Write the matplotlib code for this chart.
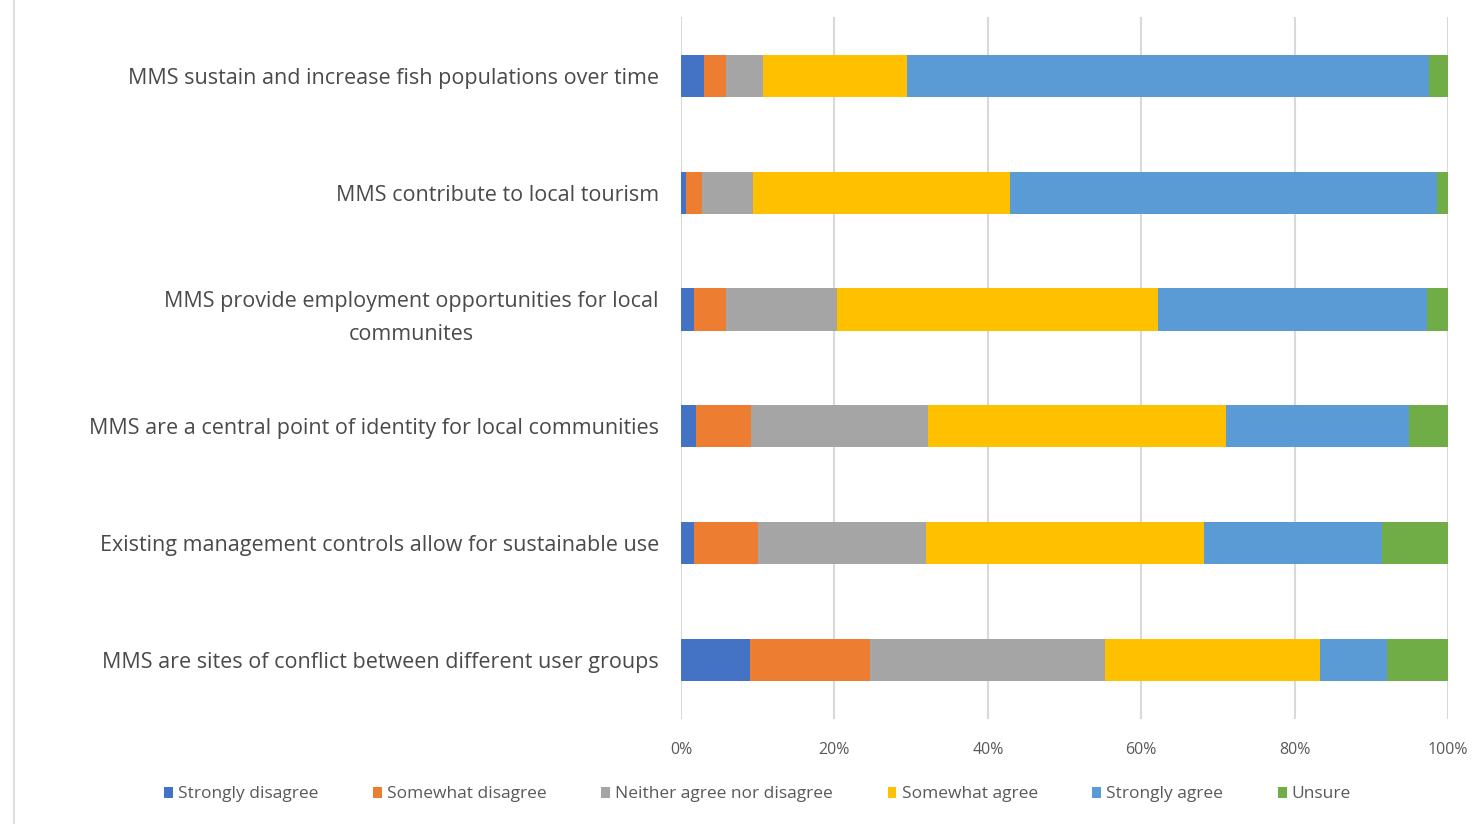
import numpy as np
import matplotlib.pyplot as plt
from matplotlib.patches import Patch
from matplotlib.lines import Line2D

plt.rcParams['font.family'] = ['Open Sans', 'DejaVu Sans']

statements = [
    "MMS sustain and increase fish populations over time",
    "MMS contribute to local tourism",
    "MMS provide employment opportunities for local\ncommunites",
    "MMS are a central point of identity for local communities",
    "Existing management controls allow for sustainable use",
    "MMS are sites of conflict between different user groups",
]
responses = ["Strongly disagree", "Somewhat disagree", "Neither agree nor disagree",
             "Somewhat agree", "Strongly agree", "Unsure"]
colors = ["#4472c4", "#ed7d31", "#a5a5a5", "#ffc000", "#5b9bd5", "#70ad47"]

# percent of respondents, one list per response, in statement order
strongly_disagree = [3.0, 0.7, 1.7, 2.0, 1.7, 9.0]
somewhat_disagree = [2.9, 2.0, 4.2, 7.1, 8.3, 15.7]
neither = [4.8, 6.7, 14.4, 23.1, 21.9, 30.6]
somewhat_agree = [18.7, 33.5, 41.9, 38.9, 36.3, 28.0]
strongly_agree = [68.1, 55.6, 35.0, 23.8, 23.2, 8.7]
unsure = [2.5, 1.5, 2.8, 5.1, 8.6, 8.0]
series = [strongly_disagree, somewhat_disagree, neither, somewhat_agree, strongly_agree, unsure]

fig = plt.figure(figsize=(14.74, 8.24), dpi=100)
ax = fig.add_axes([0.462, 0.128, 0.5204, 0.8509])

y = np.arange(len(statements))
left = np.zeros(len(statements))
for vals, name, c in zip(series, responses, colors):
    vals = np.array(vals)
    ax.barh(y, vals, left=left, height=0.36, color=c, label=name, zorder=3)
    left += vals

ax.set_ylim(len(statements) - 0.5, -0.5)
ax.set_xlim(0, 100)
ax.set_xticks(np.arange(0, 101, 20))
ax.set_xticklabels([f"{v}%" for v in range(0, 101, 20)], color="#595959", fontsize=11.5)
ax.set_yticks(y)
ax.set_yticklabels(statements, color="#4a4a4a", fontsize=15.5,
                   multialignment="center", linespacing=1.75)
ax.tick_params(axis="both", length=0)
ax.tick_params(axis="y", pad=16)
ax.tick_params(axis="x", pad=17)
ax.xaxis.grid(True, color="#d9d9d9", linewidth=1.5, zorder=0)
for s in ax.spines.values():
    s.set_visible(False)

handles = [Patch(facecolor=c, edgecolor="none") for c in colors]
fig.legend(handles, responses, loc="center", bbox_to_anchor=(0.514, 0.036), ncol=6,
           frameon=False, fontsize=12.5, labelcolor="#595959", handlelength=0.5,
           handleheight=0.6, handletextpad=0.3, columnspacing=3.15)

# light frame on the left edge
fig.add_artist(Line2D([0.0095, 0.0095], [0.0, 1.0], color="#d9d9d9", linewidth=1.2))

fig.savefig("out.png", dpi=100)
